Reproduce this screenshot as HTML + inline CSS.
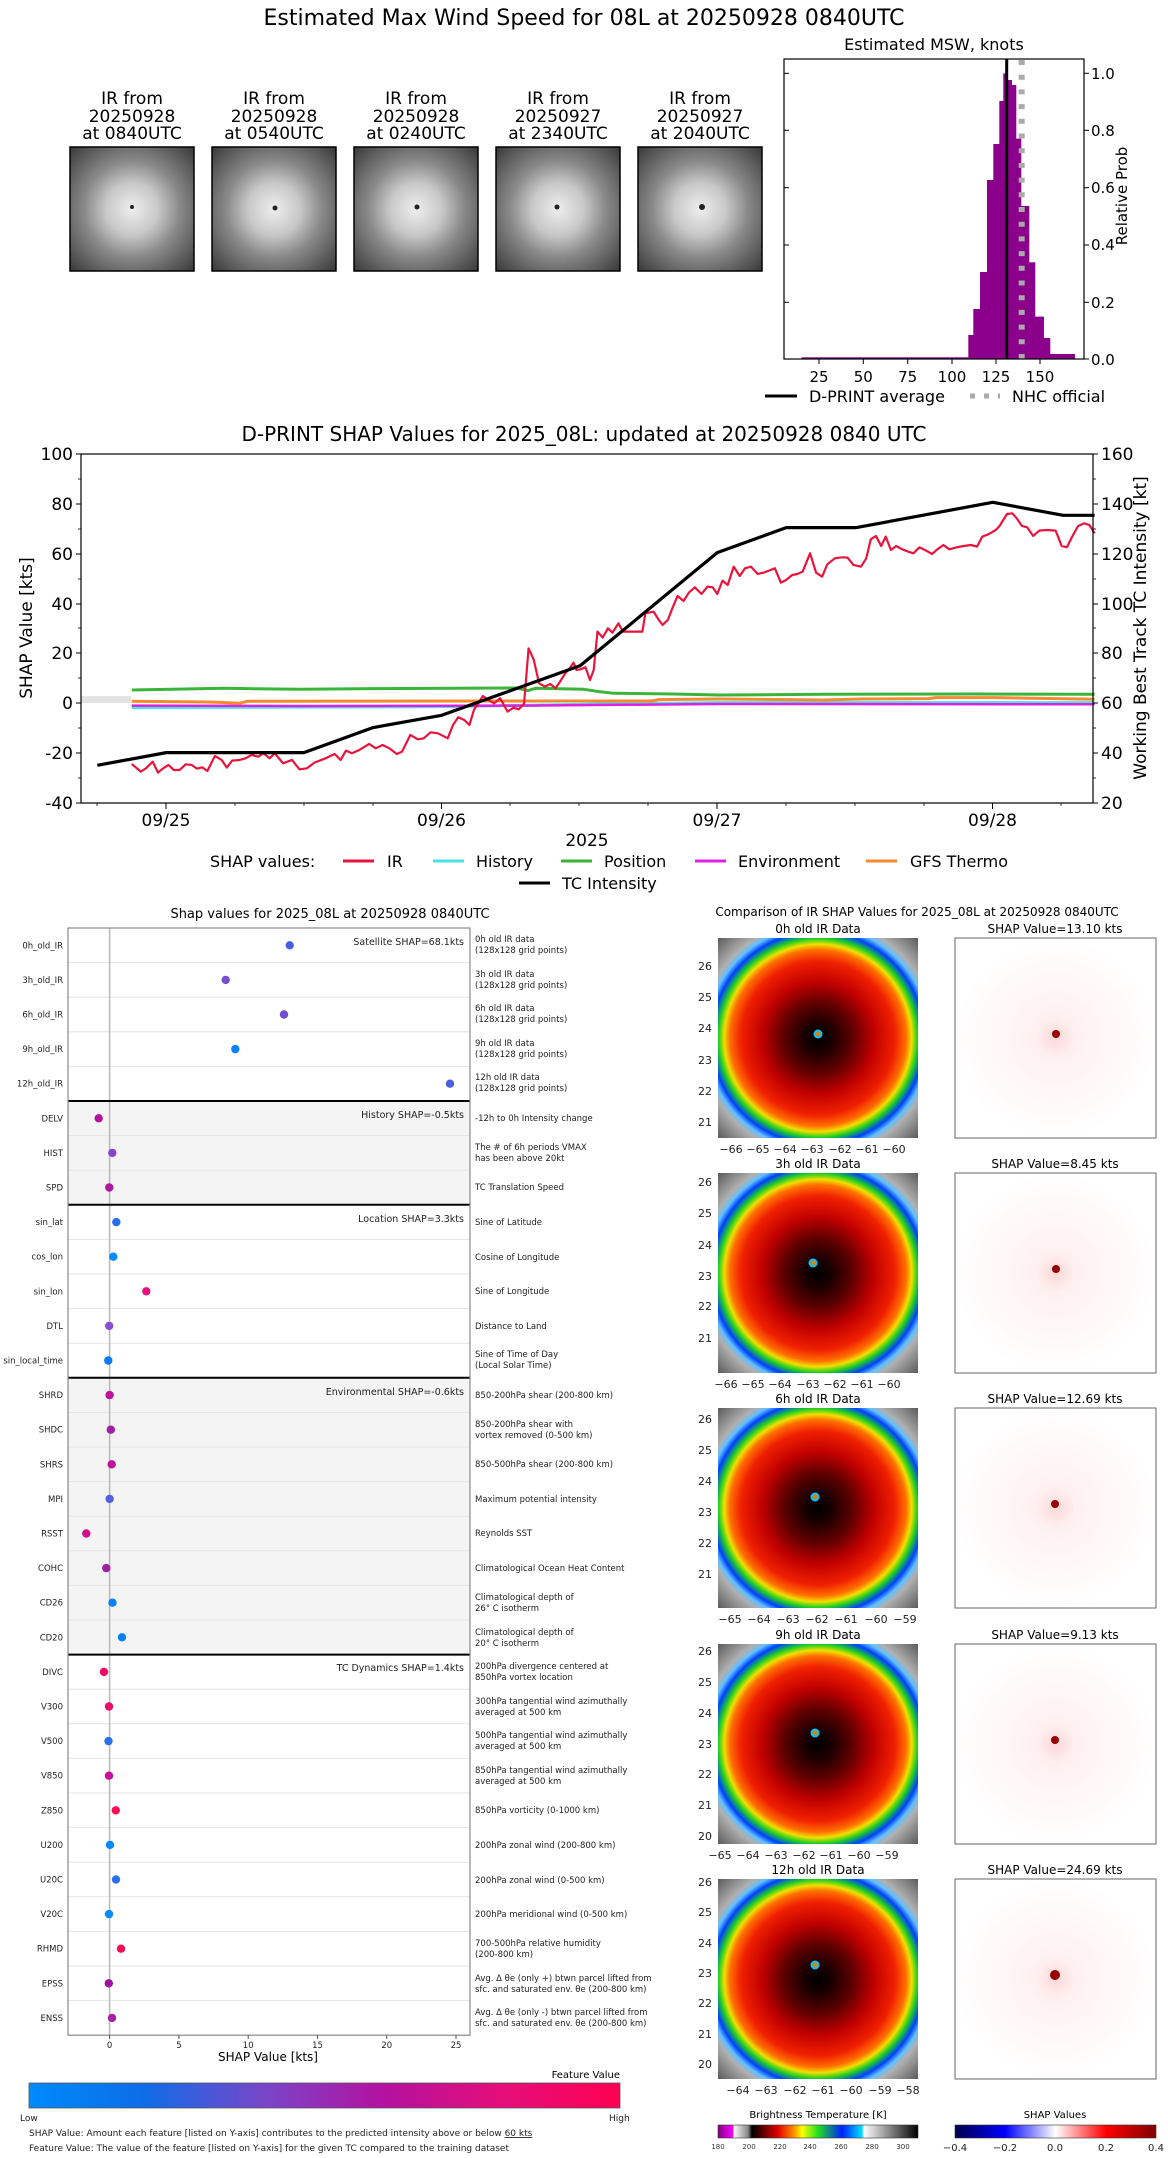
<!DOCTYPE html>
<html><head><meta charset="utf-8"><style>
html,body{margin:0;padding:0;background:#fff;}
svg{display:block;font-family:"DejaVu Sans","Liberation Sans",sans-serif;}
</style></head><body>
<svg width="1168" height="2158" viewBox="0 0 1168 2158" xmlns="http://www.w3.org/2000/svg">
<defs>
<radialGradient id="gray" cx="0.5" cy="0.5" r="0.7">
<stop offset="0" stop-color="#eeeeee"/><stop offset="0.3" stop-color="#c8c8c8"/><stop offset="0.55" stop-color="#8a8a8a"/><stop offset="1" stop-color="#3a3a3a"/></radialGradient>
<radialGradient id="ir" cx="0.5" cy="0.5" r="0.7">
<stop offset="0" stop-color="#000"/><stop offset="0.1" stop-color="#1a0000"/><stop offset="0.25" stop-color="#600000"/><stop offset="0.4" stop-color="#c00000"/><stop offset="0.55" stop-color="#f02000"/><stop offset="0.63" stop-color="#ff7000"/><stop offset="0.67" stop-color="#f0e000"/><stop offset="0.71" stop-color="#20d020"/><stop offset="0.76" stop-color="#0040ff"/><stop offset="0.8" stop-color="#60c0ff"/><stop offset="0.84" stop-color="#b0b0b0"/><stop offset="1" stop-color="#606060"/></radialGradient>
<radialGradient id="shp" cx="0.5" cy="0.5" r="0.5">
<stop offset="0" stop-color="#fbd8d8"/><stop offset="0.2" stop-color="#fff0f0"/><stop offset="1" stop-color="#fff"/></radialGradient>
<linearGradient id="fv" x1="0" x2="1"><stop offset="0" stop-color="#008bfa"/><stop offset="0.19" stop-color="#0c6de8"/><stop offset="0.4" stop-color="#7a45c9"/><stop offset="0.6" stop-color="#b3119f"/><stop offset="0.8" stop-color="#e50e79"/><stop offset="1" stop-color="#ff0052"/></linearGradient>
<linearGradient id="bt" x1="0" x2="1"><stop offset="0" stop-color="#800080"/><stop offset="0.076" stop-color="#ff00ff"/><stop offset="0.077" stop-color="#fff"/><stop offset="0.15" stop-color="#888"/><stop offset="0.17" stop-color="#000"/><stop offset="0.3" stop-color="#e00000"/><stop offset="0.38" stop-color="#ff9000"/><stop offset="0.42" stop-color="#ffff00"/><stop offset="0.5" stop-color="#20e020"/><stop offset="0.62" stop-color="#0020ff"/><stop offset="0.72" stop-color="#00e0ff"/><stop offset="0.73" stop-color="#fff"/><stop offset="1" stop-color="#000"/></linearGradient>
<linearGradient id="sv" x1="0" x2="1"><stop offset="0" stop-color="#00004c"/><stop offset="0.25" stop-color="#0000ff"/><stop offset="0.5" stop-color="#ffffff"/><stop offset="0.75" stop-color="#ff0000"/><stop offset="1" stop-color="#800000"/></linearGradient>
</defs>

<text x="584" y="25" font-size="22" text-anchor="middle">Estimated Max Wind Speed for 08L at 20250928 0840UTC</text>

<g font-size="17" text-anchor="middle">
<text x="132" y="104">IR from</text><text x="132" y="122">20250928</text><text x="132" y="139">at 0840UTC</text>
<text x="274" y="104">IR from</text><text x="274" y="122">20250928</text><text x="274" y="139">at 0540UTC</text>
<text x="416" y="104">IR from</text><text x="416" y="122">20250928</text><text x="416" y="139">at 0240UTC</text>
<text x="558" y="104">IR from</text><text x="558" y="122">20250927</text><text x="558" y="139">at 2340UTC</text>
<text x="700" y="104">IR from</text><text x="700" y="122">20250927</text><text x="700" y="139">at 2040UTC</text>
</g>
<g stroke="#000" stroke-width="1.5">
<rect x="70" y="147" width="124" height="124" fill="url(#gray)"/>
<rect x="212" y="147" width="124" height="124" fill="url(#gray)"/>
<rect x="354" y="147" width="124" height="124" fill="url(#gray)"/>
<rect x="496" y="147" width="124" height="124" fill="url(#gray)"/>
<rect x="638" y="147" width="124" height="124" fill="url(#gray)"/>
</g>
<g fill="#222"><circle cx="132" cy="207" r="2"/><circle cx="275" cy="208" r="2.5"/><circle cx="417" cy="207" r="2.5"/><circle cx="557" cy="207" r="2.5"/><circle cx="702" cy="207" r="3"/></g>

<text x="934" y="50" font-size="16" text-anchor="middle">Estimated MSW, knots</text>
<g transform="translate(700,30) scale(0.3333)" fill="#8b008b">
<rect x="305" y="982" width="500" height="5"/>
<rect x="805" y="915" width="16" height="72"/><rect x="820" y="837" width="21" height="150"/><rect x="840" y="726" width="22" height="261"/><rect x="861" y="450" width="20" height="537"/><rect x="880" y="342" width="19" height="645"/><rect x="898" y="213" width="13" height="774"/><rect x="910" y="130" width="13" height="857"/><rect x="922" y="150" width="14" height="837"/><rect x="935" y="165" width="14" height="822"/><rect x="948" y="326" width="16" height="661"/><rect x="963" y="528" width="25" height="459"/><rect x="987" y="697" width="19" height="290"/><rect x="1005" y="860" width="27" height="127"/><rect x="1031" y="924" width="20" height="63"/><rect x="1050" y="972" width="75" height="15"/>
</g>
<line x1="1021.7" y1="60" x2="1021.7" y2="359" stroke="#aaa" stroke-width="6" stroke-dasharray="5,9.7"/>
<line x1="1006.7" y1="59" x2="1006.7" y2="359" stroke="#000" stroke-width="3"/>
<rect x="784" y="59" width="300" height="300" fill="none" stroke="#000" stroke-width="1.2"/>
<g stroke="#000" stroke-width="1">
<line x1="819" y1="359" x2="819" y2="364"/><line x1="863.3" y1="359" x2="863.3" y2="364"/><line x1="907.7" y1="359" x2="907.7" y2="364"/><line x1="952" y1="359" x2="952" y2="364"/><line x1="996" y1="359" x2="996" y2="364"/><line x1="1040" y1="359" x2="1040" y2="364"/>
<line x1="1084" y1="73.3" x2="1089" y2="73.3"/><line x1="1084" y1="130.3" x2="1089" y2="130.3"/><line x1="1084" y1="187.7" x2="1089" y2="187.7"/><line x1="1084" y1="245" x2="1089" y2="245"/><line x1="1084" y1="302.3" x2="1089" y2="302.3"/><line x1="1084" y1="359" x2="1089" y2="359"/>
<line x1="784" y1="73.3" x2="789" y2="73.3"/><line x1="784" y1="130.3" x2="789" y2="130.3"/><line x1="784" y1="187.7" x2="789" y2="187.7"/><line x1="784" y1="245" x2="789" y2="245"/><line x1="784" y1="302.3" x2="789" y2="302.3"/>
</g>
<g font-size="15" text-anchor="middle">
<text x="819" y="382">25</text><text x="863.3" y="382">50</text><text x="907.7" y="382">75</text><text x="952" y="382">100</text><text x="996" y="382">125</text><text x="1040" y="382">150</text>
</g>
<g font-size="15">
<text x="1091" y="79">1.0</text><text x="1091" y="136">0.8</text><text x="1091" y="193">0.6</text><text x="1091" y="250">0.4</text><text x="1091" y="308">0.2</text><text x="1091" y="365">0.0</text>
</g>
<text transform="translate(1127,196) rotate(-90)" font-size="15" text-anchor="middle">Relative Prob</text>
<line x1="765" y1="396" x2="797" y2="396" stroke="#000" stroke-width="3"/>
<text x="809" y="402" font-size="16">D-PRINT average</text>
<line x1="970" y1="396" x2="1000" y2="396" stroke="#aaa" stroke-width="5" stroke-dasharray="5,9"/>
<text x="1012" y="402" font-size="16">NHC official</text>

<text x="584" y="441" font-size="20" text-anchor="middle">D-PRINT SHAP Values for 2025_08L: updated at 20250928 0840 UTC</text>
<rect x="81" y="696" width="50" height="7" fill="#e3e3e3"/>
<g transform="translate(0,440) scale(0.7487,0.3333)" fill="none" stroke-linejoin="round">
<polyline vector-effect="non-scaling-stroke" stroke="#3ab53a" stroke-width="3" points="176,750 300,745 400,748 500,746 600,745 690,744 705,752 715,745 780,748 800,755 820,760 900,762 960,765 1100,763 1300,762 1462,763"/>
<polyline vector-effect="non-scaling-stroke" stroke="#45e5e5" stroke-width="3" points="176,803 600,800 800,792 960,788 1462,788"/>
<polyline vector-effect="non-scaling-stroke" stroke="#e020e0" stroke-width="2.5" points="176,797 400,798 700,797 960,792 1462,793"/>
<polyline vector-effect="non-scaling-stroke" stroke="#f58a30" stroke-width="3" points="176,784 280,786 320,790 330,784 700,783 870,783 880,779 960,777 1100,780 1150,777 1240,776 1250,773 1330,773 1462,778"/>
<polyline vector-effect="non-scaling-stroke" stroke="#e8143c" stroke-width="2.2" points="176,972 188,995 195,985 204,965 211,998 218,985 225,975 232,990 240,990 248,973 256,975 263,986 270,982 277,993 287,948 296,960 303,983 310,962 320,960 328,955 336,945 345,950 352,940 360,955 367,940 378,970 390,960 400,988 410,985 420,968 435,955 447,942 455,960 462,932 470,940 480,930 493,912 502,925 511,915 520,925 530,942 537,935 548,885 558,898 566,895 575,877 585,880 598,895 605,855 612,832 620,840 627,855 633,810 640,785 645,768 652,780 660,790 668,775 678,815 686,803 693,808 700,790 706,625 713,660 720,730 728,740 735,732 742,745 748,725 755,700 760,688 766,668 770,690 775,688 782,682 788,720 793,690 798,575 805,593 812,565 818,578 826,550 832,575 838,575 850,575 858,575 862,520 873,515 880,540 885,555 892,540 898,505 905,468 913,483 920,458 928,442 937,462 945,440 952,442 958,462 965,422 972,435 980,380 988,408 995,385 1003,380 1012,402 1020,398 1035,385 1043,428 1050,420 1058,405 1065,402 1072,395 1082,340 1090,398 1098,410 1105,373 1115,355 1125,352 1132,353 1140,375 1150,380 1157,355 1163,298 1170,288 1177,318 1183,290 1190,330 1197,318 1205,328 1213,335 1220,340 1228,322 1237,332 1245,342 1252,328 1260,315 1268,328 1278,322 1287,318 1297,315 1305,320 1312,290 1320,283 1330,270 1335,258 1345,222 1352,220 1358,235 1365,258 1372,262 1380,288 1388,272 1398,270 1410,272 1418,318 1425,322 1432,290 1440,258 1448,250 1455,255 1462,280"/>
<polyline vector-effect="non-scaling-stroke" stroke="#000" stroke-width="3.2" points="130,976 222,938 406,938 498,863 590,826 775,677 958,338 1050,263 1143,263 1326,187 1420,226 1462,226"/>
</g>
<rect x="81" y="454" width="1012" height="349" fill="none" stroke="#000" stroke-width="1.2"/>
<g stroke="#000" stroke-width="1">
<line x1="76" y1="454" x2="81" y2="454"/><line x1="76" y1="504" x2="81" y2="504"/><line x1="76" y1="554" x2="81" y2="554"/><line x1="76" y1="604" x2="81" y2="604"/><line x1="76" y1="653" x2="81" y2="653"/><line x1="76" y1="703" x2="81" y2="703"/><line x1="76" y1="753" x2="81" y2="753"/><line x1="76" y1="803" x2="81" y2="803"/>
<line x1="1093" y1="454" x2="1098" y2="454"/><line x1="1093" y1="504" x2="1098" y2="504"/><line x1="1093" y1="554" x2="1098" y2="554"/><line x1="1093" y1="604" x2="1098" y2="604"/><line x1="1093" y1="653" x2="1098" y2="653"/><line x1="1093" y1="703" x2="1098" y2="703"/><line x1="1093" y1="753" x2="1098" y2="753"/><line x1="1093" y1="803" x2="1098" y2="803"/>
<line x1="166" y1="803" x2="166" y2="809"/><line x1="441.5" y1="803" x2="441.5" y2="809"/><line x1="717" y1="803" x2="717" y2="809"/><line x1="992.5" y1="803" x2="992.5" y2="809"/>
</g>
<g stroke="#000" stroke-width="0.8">
<line x1="97" y1="803" x2="97" y2="806"/><line x1="235" y1="803" x2="235" y2="806"/><line x1="304" y1="803" x2="304" y2="806"/><line x1="373" y1="803" x2="373" y2="806"/><line x1="510" y1="803" x2="510" y2="806"/><line x1="579" y1="803" x2="579" y2="806"/><line x1="648" y1="803" x2="648" y2="806"/><line x1="786" y1="803" x2="786" y2="806"/><line x1="855" y1="803" x2="855" y2="806"/><line x1="924" y1="803" x2="924" y2="806"/><line x1="1061" y1="803" x2="1061" y2="806"/>
<line x1="78" y1="479" x2="81" y2="479"/><line x1="78" y1="529" x2="81" y2="529"/><line x1="78" y1="579" x2="81" y2="579"/><line x1="78" y1="628" x2="81" y2="628"/><line x1="78" y1="678" x2="81" y2="678"/><line x1="78" y1="728" x2="81" y2="728"/><line x1="78" y1="778" x2="81" y2="778"/>
<line x1="1093" y1="479" x2="1096" y2="479"/><line x1="1093" y1="529" x2="1096" y2="529"/><line x1="1093" y1="579" x2="1096" y2="579"/><line x1="1093" y1="628" x2="1096" y2="628"/><line x1="1093" y1="678" x2="1096" y2="678"/><line x1="1093" y1="728" x2="1096" y2="728"/><line x1="1093" y1="778" x2="1096" y2="778"/>
</g>
<g font-size="17" text-anchor="end">
<text x="73" y="460">100</text><text x="73" y="510">80</text><text x="73" y="560">60</text><text x="73" y="610">40</text><text x="73" y="659">20</text><text x="73" y="709">0</text><text x="73" y="759">-20</text><text x="73" y="809">-40</text>
</g>
<g font-size="17">
<text x="1101" y="460">160</text><text x="1101" y="510">140</text><text x="1101" y="560">120</text><text x="1101" y="610">100</text><text x="1101" y="659">80</text><text x="1101" y="709">60</text><text x="1101" y="759">40</text><text x="1101" y="809">20</text>
</g>
<g font-size="17" text-anchor="middle">
<text x="166" y="826">09/25</text><text x="441.5" y="826">09/26</text><text x="717" y="826">09/27</text><text x="992.5" y="826">09/28</text>
<text x="587" y="846">2025</text>
</g>
<text transform="translate(32,628) rotate(-90)" font-size="17" text-anchor="middle">SHAP Value [kts]</text>
<text transform="translate(1146,628) rotate(-90)" font-size="17" text-anchor="middle">Working Best Track TC Intensity [kt]</text>
<g font-size="16">
<text x="210" y="867">SHAP values:</text>
<line x1="343" y1="861" x2="374" y2="861" stroke="#e8143c" stroke-width="3"/><text x="387" y="867">IR</text>
<line x1="433" y1="861" x2="464" y2="861" stroke="#45e5e5" stroke-width="3"/><text x="476" y="867">History</text>
<line x1="561" y1="861" x2="592" y2="861" stroke="#3ab53a" stroke-width="3"/><text x="604" y="867">Position</text>
<line x1="695" y1="861" x2="726" y2="861" stroke="#e020e0" stroke-width="3"/><text x="738" y="867">Environment</text>
<line x1="866" y1="861" x2="897" y2="861" stroke="#f58a30" stroke-width="3"/><text x="910" y="867">GFS Thermo</text>
<line x1="519" y1="883" x2="550" y2="883" stroke="#000" stroke-width="3"/><text x="562" y="889">TC Intensity</text>
</g>

<text x="330" y="918" font-size="13" text-anchor="middle">Shap values for 2025_08L at 20250928 0840UTC</text>
<rect x="68" y="1101" width="402" height="103.8" fill="#f4f4f4"/>
<rect x="68" y="1377.8" width="402" height="276.8" fill="#f4f4f4"/>
<g stroke="#e4e4e4" stroke-width="1">
<line x1="68" y1="962.6" x2="470" y2="962.6"/><line x1="68" y1="997.2" x2="470" y2="997.2"/><line x1="68" y1="1031.8" x2="470" y2="1031.8"/><line x1="68" y1="1066.4" x2="470" y2="1066.4"/>
<line x1="68" y1="1135.6" x2="470" y2="1135.6"/><line x1="68" y1="1170.2" x2="470" y2="1170.2"/>
<line x1="68" y1="1239.4" x2="470" y2="1239.4"/><line x1="68" y1="1274" x2="470" y2="1274"/><line x1="68" y1="1308.6" x2="470" y2="1308.6"/><line x1="68" y1="1343.2" x2="470" y2="1343.2"/>
<line x1="68" y1="1412.4" x2="470" y2="1412.4"/><line x1="68" y1="1447" x2="470" y2="1447"/><line x1="68" y1="1481.6" x2="470" y2="1481.6"/><line x1="68" y1="1516.2" x2="470" y2="1516.2"/><line x1="68" y1="1550.8" x2="470" y2="1550.8"/><line x1="68" y1="1585.4" x2="470" y2="1585.4"/><line x1="68" y1="1620" x2="470" y2="1620"/>
<line x1="68" y1="1689.2" x2="470" y2="1689.2"/><line x1="68" y1="1723.8" x2="470" y2="1723.8"/><line x1="68" y1="1758.4" x2="470" y2="1758.4"/><line x1="68" y1="1793" x2="470" y2="1793"/><line x1="68" y1="1827.6" x2="470" y2="1827.6"/><line x1="68" y1="1862.2" x2="470" y2="1862.2"/><line x1="68" y1="1896.8" x2="470" y2="1896.8"/><line x1="68" y1="1931.4" x2="470" y2="1931.4"/><line x1="68" y1="1966" x2="470" y2="1966"/><line x1="68" y1="2000.6" x2="470" y2="2000.6"/>
</g>
<line x1="109.6" y1="928" x2="109.6" y2="2035" stroke="#b8b8b8" stroke-width="1.5"/>
<g stroke="#000" stroke-width="2">
<line x1="68" y1="1101" x2="470" y2="1101"/><line x1="68" y1="1204.8" x2="470" y2="1204.8"/><line x1="68" y1="1377.8" x2="470" y2="1377.8"/><line x1="68" y1="1654.6" x2="470" y2="1654.6"/>
</g>
<rect x="68" y="928" width="402" height="1107.2" fill="none" stroke="#888" stroke-width="1.2"/>
<g font-size="9.5" text-anchor="end" fill="#222">
<text x="464" y="945">Satellite SHAP=68.1kts</text>
<text x="464" y="1118">History SHAP=-0.5kts</text>
<text x="464" y="1222">Location SHAP=3.3kts</text>
<text x="464" y="1395">Environmental SHAP=-0.6kts</text>
<text x="464" y="1671">TC Dynamics SHAP=1.4kts</text>
</g>
<g font-size="8.5" text-anchor="end" fill="#222">
<text x="63" y="948.3">0h_old_IR</text><text x="63" y="982.9">3h_old_IR</text><text x="63" y="1017.5">6h_old_IR</text><text x="63" y="1052.1">9h_old_IR</text><text x="63" y="1086.7">12h_old_IR</text>
<text x="63" y="1121.3">DELV</text><text x="63" y="1155.9">HIST</text><text x="63" y="1190.5">SPD</text>
<text x="63" y="1225.1">sin_lat</text><text x="63" y="1259.7">cos_lon</text><text x="63" y="1294.3">sin_lon</text><text x="63" y="1328.9">DTL</text><text x="63" y="1363.5">sin_local_time</text>
<text x="63" y="1398.1">SHRD</text><text x="63" y="1432.7">SHDC</text><text x="63" y="1467.3">SHRS</text><text x="63" y="1501.9">MPI</text><text x="63" y="1536.5">RSST</text><text x="63" y="1571.1">COHC</text><text x="63" y="1605.7">CD26</text><text x="63" y="1640.3">CD20</text>
<text x="63" y="1674.9">DIVC</text><text x="63" y="1709.5">V300</text><text x="63" y="1744.1">V500</text><text x="63" y="1778.7">V850</text><text x="63" y="1813.3">Z850</text><text x="63" y="1847.9">U200</text><text x="63" y="1882.5">U20C</text><text x="63" y="1917.1">V20C</text><text x="63" y="1951.7">RHMD</text><text x="63" y="1986.3">EPSS</text><text x="63" y="2020.9">ENSS</text>
</g>
<g font-size="8.5" fill="#222">
<text x="475" y="942">0h old IR data</text><text x="475" y="953">(128x128 grid points)</text>
<text x="475" y="977">3h old IR data</text><text x="475" y="988">(128x128 grid points)</text>
<text x="475" y="1011">6h old IR data</text><text x="475" y="1022">(128x128 grid points)</text>
<text x="475" y="1046">9h old IR data</text><text x="475" y="1057">(128x128 grid points)</text>
<text x="475" y="1080">12h old IR data</text><text x="475" y="1091">(128x128 grid points)</text>
<text x="475" y="1121">-12h to 0h Intensity change</text>
<text x="475" y="1150">The # of 6h periods VMAX</text><text x="475" y="1161">has been above 20kt</text>
<text x="475" y="1190">TC Translation Speed</text>
<text x="475" y="1225">Sine of Latitude</text><text x="475" y="1260">Cosine of Longitude</text><text x="475" y="1294">Sine of Longitude</text><text x="475" y="1329">Distance to Land</text>
<text x="475" y="1357">Sine of Time of Day</text><text x="475" y="1368">(Local Solar Time)</text>
<text x="475" y="1398">850-200hPa shear (200-800 km)</text>
<text x="475" y="1427">850-200hPa shear with</text><text x="475" y="1438">vortex removed (0-500 km)</text>
<text x="475" y="1467">850-500hPa shear (200-800 km)</text>
<text x="475" y="1502">Maximum potential intensity</text>
<text x="475" y="1536">Reynolds SST</text>
<text x="475" y="1571">Climatological Ocean Heat Content</text>
<text x="475" y="1600">Climatological depth of</text><text x="475" y="1611">26° C isotherm</text>
<text x="475" y="1635">Climatological depth of</text><text x="475" y="1646">20° C isotherm</text>
<text x="475" y="1669">200hPa divergence centered at</text><text x="475" y="1680">850hPa vortex location</text>
<text x="475" y="1704">300hPa tangential wind azimuthally</text><text x="475" y="1715">averaged at 500 km</text>
<text x="475" y="1738">500hPa tangential wind azimuthally</text><text x="475" y="1749">averaged at 500 km</text>
<text x="475" y="1773">850hPa tangential wind azimuthally</text><text x="475" y="1784">averaged at 500 km</text>
<text x="475" y="1813">850hPa vorticity (0-1000 km)</text>
<text x="475" y="1848">200hPa zonal wind (200-800 km)</text>
<text x="475" y="1883">200hPa zonal wind (0-500 km)</text>
<text x="475" y="1917">200hPa meridional wind (0-500 km)</text>
<text x="475" y="1946">700-500hPa relative humidity</text><text x="475" y="1957">(200-800 km)</text>
<text x="475" y="1981">Avg. Δ θe (only +) btwn parcel lifted from</text><text x="475" y="1992">sfc. and saturated env. θe (200-800 km)</text>
<text x="475" y="2015">Avg. Δ θe (only -) btwn parcel lifted from</text><text x="475" y="2026">sfc. and saturated env. θe (200-800 km)</text>
</g>
<g>
<circle cx="289.7" cy="945.3" r="4.2" fill="#4a5ee0"/><circle cx="225.7" cy="979.9" r="4.2" fill="#7a4fd0"/><circle cx="284" cy="1014.5" r="4.2" fill="#7050d0"/><circle cx="235.3" cy="1049.1" r="4.2" fill="#0a80ff"/><circle cx="450" cy="1083.7" r="4.2" fill="#4a5ee0"/>
<circle cx="98.7" cy="1118.3" r="4.2" fill="#b0139e"/><circle cx="112.3" cy="1152.9" r="4.2" fill="#8a45c8"/><circle cx="109.3" cy="1187.5" r="4.2" fill="#b0189e"/>
<circle cx="116.3" cy="1222.1" r="4.2" fill="#2a6ef0"/><circle cx="113.3" cy="1256.7" r="4.2" fill="#0a8aff"/><circle cx="146.3" cy="1291.3" r="4.2" fill="#e8107a"/><circle cx="109.2" cy="1325.9" r="4.2" fill="#8a4fd0"/><circle cx="108.3" cy="1360.5" r="4.2" fill="#0a7af8"/>
<circle cx="109.6" cy="1395.1" r="4.2" fill="#c0109a"/><circle cx="110.8" cy="1429.7" r="4.2" fill="#a020a8"/><circle cx="111.7" cy="1464.3" r="4.2" fill="#c0109a"/><circle cx="109.6" cy="1498.9" r="4.2" fill="#5060e0"/><circle cx="86.3" cy="1533.5" r="4.2" fill="#d0108a"/><circle cx="106.3" cy="1568.1" r="4.2" fill="#a020a8"/><circle cx="112.5" cy="1602.7" r="4.2" fill="#0a80f8"/><circle cx="122" cy="1637.3" r="4.2" fill="#0a80f8"/>
<circle cx="104" cy="1671.9" r="4.2" fill="#f00a60"/><circle cx="109" cy="1706.5" r="4.2" fill="#e8106a"/><circle cx="108.5" cy="1741.1" r="4.2" fill="#2a70f0"/><circle cx="109" cy="1775.7" r="4.2" fill="#c8109a"/><circle cx="115.8" cy="1810.3" r="4.2" fill="#ff0a55"/><circle cx="110" cy="1844.9" r="4.2" fill="#0a8aff"/><circle cx="116" cy="1879.5" r="4.2" fill="#2a70f0"/><circle cx="109" cy="1914.1" r="4.2" fill="#0a8aff"/><circle cx="121" cy="1948.7" r="4.2" fill="#ff0a55"/><circle cx="108.8" cy="1983.3" r="4.2" fill="#a0109e"/><circle cx="112" cy="2017.9" r="4.2" fill="#a820a8"/>
</g>
<g stroke="#555" stroke-width="1">
<line x1="109.6" y1="2035" x2="109.6" y2="2039"/><line x1="178.9" y1="2035" x2="178.9" y2="2039"/><line x1="248.2" y1="2035" x2="248.2" y2="2039"/><line x1="317.5" y1="2035" x2="317.5" y2="2039"/><line x1="386.8" y1="2035" x2="386.8" y2="2039"/><line x1="456" y1="2035" x2="456" y2="2039"/>
</g>
<g font-size="8.5" text-anchor="middle" fill="#222">
<text x="109.6" y="2048">0</text><text x="178.9" y="2048">5</text><text x="248.2" y="2048">10</text><text x="317.5" y="2048">15</text><text x="386.8" y="2048">20</text><text x="456" y="2048">25</text>
</g>
<text x="268" y="2061" font-size="12" text-anchor="middle">SHAP Value [kts]</text>
<text x="620" y="2078" font-size="10" text-anchor="end">Feature Value</text>
<rect x="29" y="2083" width="591" height="25" fill="url(#fv)" stroke="#555" stroke-width="0.8"/>
<g font-size="9" fill="#222">
<text x="20" y="2121">Low</text><text x="609" y="2121">High</text>
<text x="29" y="2136">SHAP Value: Amount each feature [listed on Y-axis] contributes to the predicted intensity above or below <tspan text-decoration="underline">60 kts</tspan></text>
<text x="29" y="2151">Feature Value: The value of the feature [listed on Y-axis] for the given TC compared to the training dataset</text>
</g>

<text x="917" y="916" font-size="12" text-anchor="middle">Comparison of IR SHAP Values for 2025_08L at 20250928 0840UTC</text>
<g font-size="12" text-anchor="middle">
<text x="818" y="933">0h old IR Data</text><text x="1055" y="933">SHAP Value=13.10 kts</text>
<text x="818" y="1168">3h old IR Data</text><text x="1055" y="1168">SHAP Value=8.45 kts</text>
<text x="818" y="1403">6h old IR Data</text><text x="1055" y="1403">SHAP Value=12.69 kts</text>
<text x="818" y="1639">9h old IR Data</text><text x="1055" y="1639">SHAP Value=9.13 kts</text>
<text x="818" y="1874">12h old IR Data</text><text x="1055" y="1874">SHAP Value=24.69 kts</text>
</g>
<g>
<rect x="718" y="938" width="200" height="200" fill="url(#ir)"/>
<rect x="718" y="1173" width="200" height="200" fill="url(#ir)"/>
<rect x="718" y="1408" width="200" height="200" fill="url(#ir)"/>
<rect x="718" y="1644" width="200" height="200" fill="url(#ir)"/>
<rect x="718" y="1879" width="200" height="200" fill="url(#ir)"/>
</g>
<g stroke="#00c8ff" stroke-width="2" fill="#e08000">
<circle cx="818" cy="1034" r="3.5"/><circle cx="813" cy="1263" r="3.5"/><circle cx="815" cy="1497" r="3.5"/><circle cx="815" cy="1733" r="3.5"/><circle cx="815" cy="1965" r="3.5"/>
</g>
<g stroke="#666" stroke-width="1">
<rect x="955" y="938" width="201" height="200" fill="url(#shp)"/>
<rect x="955" y="1173" width="201" height="200" fill="url(#shp)"/>
<rect x="955" y="1408" width="201" height="200" fill="url(#shp)"/>
<rect x="955" y="1644" width="201" height="200" fill="url(#shp)"/>
<rect x="955" y="1879" width="201" height="200" fill="url(#shp)"/>
</g>
<g fill="#900">
<circle cx="1056" cy="1034" r="4"/><circle cx="1056" cy="1269" r="4"/><circle cx="1055" cy="1504" r="4"/><circle cx="1055" cy="1740" r="4"/><circle cx="1055" cy="1975" r="5"/>
</g>
<g font-size="11" text-anchor="end" fill="#222">
<text x="712" y="970">26</text><text x="712" y="1001">25</text><text x="712" y="1032">24</text><text x="712" y="1064">23</text><text x="712" y="1095">22</text><text x="712" y="1126">21</text>
<text x="712" y="1186">26</text><text x="712" y="1217">25</text><text x="712" y="1249">24</text><text x="712" y="1280">23</text><text x="712" y="1310">22</text><text x="712" y="1342">21</text>
<text x="712" y="1423">26</text><text x="712" y="1454">25</text><text x="712" y="1485">24</text><text x="712" y="1516">23</text><text x="712" y="1547">22</text><text x="712" y="1578">21</text>
<text x="712" y="1655">26</text><text x="712" y="1686">25</text><text x="712" y="1717">24</text><text x="712" y="1748">23</text><text x="712" y="1778">22</text><text x="712" y="1809">21</text><text x="712" y="1840">20</text>
<text x="712" y="1886">26</text><text x="712" y="1916">25</text><text x="712" y="1947">24</text><text x="712" y="1977">23</text><text x="712" y="2007">22</text><text x="712" y="2038">21</text><text x="712" y="2068">20</text>
</g>
<g font-size="11" text-anchor="middle" fill="#222">
<text x="731" y="1153">−66</text><text x="758" y="1153">−65</text><text x="785" y="1153">−64</text><text x="812" y="1153">−63</text><text x="840" y="1153">−62</text><text x="867" y="1153">−61</text><text x="894" y="1153">−60</text>
<text x="726" y="1388">−66</text><text x="753" y="1388">−65</text><text x="780" y="1388">−64</text><text x="808" y="1388">−63</text><text x="835" y="1388">−62</text><text x="862" y="1388">−61</text><text x="889" y="1388">−60</text>
<text x="730" y="1623">−65</text><text x="759" y="1623">−64</text><text x="788" y="1623">−63</text><text x="817" y="1623">−62</text><text x="846" y="1623">−61</text><text x="876" y="1623">−60</text><text x="905" y="1623">−59</text>
<text x="720" y="1859">−65</text><text x="748" y="1859">−64</text><text x="776" y="1859">−63</text><text x="804" y="1859">−62</text><text x="831" y="1859">−61</text><text x="859" y="1859">−60</text><text x="887" y="1859">−59</text>
<text x="738" y="2094">−64</text><text x="766" y="2094">−63</text><text x="795" y="2094">−62</text><text x="823" y="2094">−61</text><text x="851" y="2094">−60</text><text x="880" y="2094">−59</text><text x="908" y="2094">−58</text>
</g>
<text x="818" y="2118" font-size="10" text-anchor="middle">Brightness Temperature [K]</text>
<rect x="718" y="2125" width="200" height="13" fill="url(#bt)" stroke="#333" stroke-width="0.6"/>
<g font-size="7" text-anchor="middle" fill="#333">
<text x="718" y="2149">180</text><text x="749" y="2149">200</text><text x="780" y="2149">220</text><text x="810" y="2149">240</text><text x="841" y="2149">260</text><text x="872" y="2149">280</text><text x="903" y="2149">300</text>
</g>
<text x="1055" y="2118" font-size="10" text-anchor="middle">SHAP Values</text>
<rect x="955" y="2125" width="201" height="13" fill="url(#sv)" stroke="#333" stroke-width="0.6"/>
<g font-size="10" text-anchor="middle" fill="#222">
<text x="955" y="2151">−0.4</text><text x="1005" y="2151">−0.2</text><text x="1055" y="2151">0.0</text><text x="1106" y="2151">0.2</text><text x="1156" y="2151">0.4</text>
</g>
</svg>
</body></html>
